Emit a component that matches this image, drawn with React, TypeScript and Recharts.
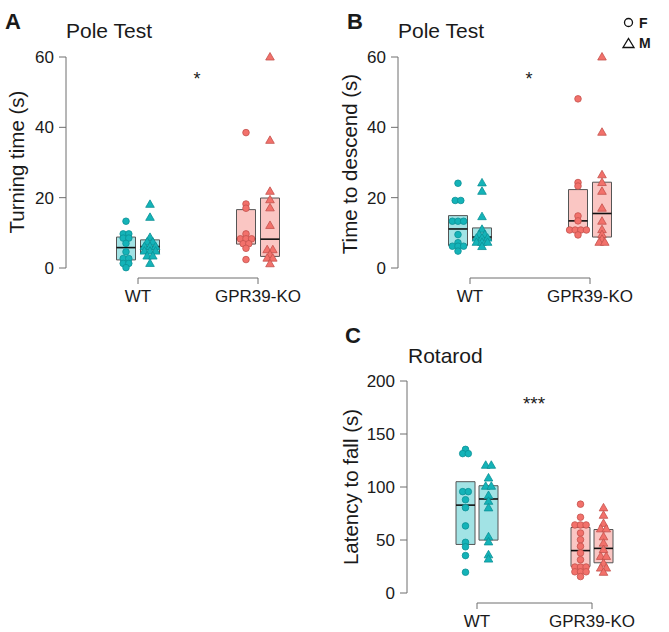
import React from 'react';
import { ComposedChart, Scatter, XAxis, YAxis, ReferenceArea, ReferenceLine } from 'recharts';

const groups = ['WT', 'GPR39-KO'];

// A - Pole test, turning time (s)
const turnWtF = [13.3, 9.7, 9.7, 8.5, 8.5, 7.0, 4.6, 2.7, 2.7, 1.3, 1.3, 0.1];
const turnWtM = [18.1, 14.4, 8.7, 7.4, 7.4, 6.1, 6.1, 6.1, 4.8, 4.8, 4.8, 3.4, 3.4, 1.3];
const turnKoF = [38.5, 18.2, 17.0, 9.7, 8.3, 8.3, 8.3, 6.9, 6.9, 5.6, 2.4];
const turnKoM = [60, 36.3, 21.8, 19.4, 17.1, 12.1, 5.2, 5.2, 3.8, 2.8, 2.8, 1.2];
// [q1, median, q3] for WT F, WT M, KO F, KO M
const turnBox = [[2.3, 5.8, 8.8], [4.2, 6.1, 8.0], [6.8, 8.3, 16.6], [3.3, 8.2, 19.9]];
const poleTicks = [0, 20, 40, 60];

// B - Pole test, time to descend (s)
const descWtF = [24.1, 19.2, 19.2, 13.3, 13.3, 13.3, 9.5, 7.2, 6.2, 6.2, 6.2, 4.8];
const descWtM = [24.2, 21.8, 14.6, 11.0, 9.5, 9.5, 8.5, 8.5, 8.5, 7.3, 7.3, 7.3, 6.1];
const descKoF = [48.1, 24.3, 23.3, 14.8, 13.4, 10.8, 10.8, 10.8, 10.8, 9.4];
const descKoM = [60, 38.6, 26.5, 24.3, 21.8, 17.0, 13.3, 10.9, 9.5, 8.2, 7.3, 7.3];
const descBox = [[6.4, 11.1, 14.9], [7.9, 8.8, 11.4], [10.9, 13.4, 22.3], [8.8, 15.5, 24.4]];

// C - Rotarod, latency to fall (s)
const rotaWtF = [135.5, 131.5, 131.5, 95.6, 95.6, 88.0, 80.5, 63.3, 47.8, 43.6, 35.3, 19.6];
const rotaWtM = [120.5, 120.5, 108.5, 100.7, 100.7, 92.0, 86.5, 80.3, 53.0, 48.2, 36.0, 32.0];
const rotaKoF = [83.8, 71.5, 64.2, 64.2, 64.2, 56.6, 50.3, 44.0, 37.7, 31.4, 24.5, 24.5, 24.5, 20.0, 20.0, 20.0, 15.5];
const rotaKoM = [80.3, 73.3, 65.6, 60.5, 60.5, 53.0, 47.0, 41.0, 34.5, 34.5, 28.0, 23.5, 23.5, 19.5];
const rotaBox = [[45.8, 82.9, 105], [49.9, 88.7, 101.2], [25, 40, 61.8], [28.5, 42.1, 59.9]];
const rotaTicks = [0, 50, 100, 150, 200];

const FONT = '"Liberation Sans", Arial, sans-serif';
const AXIS = '#6e6e6e';
const TEAL = '#14b3b8';
const TEAL_EDGE = '#0b9196';
const TEAL_BOX = '#a2e3e5';
const SALMON = '#f2716b';
const SALMON_EDGE = '#c4524c';
const SALMON_BOX = '#fac6c3';

// x slots: WT F, WT M, KO F, KO M
const slots = [0.9, 1.1, 1.9, 2.1];

// simple centred beeswarm: points in the same 5px row are spread side by side
function swarm(values: number[], cx: number, yPx: number, xPx: number) {
  const bins = new Map<number, number[]>();
  values.forEach((v) => {
    const b = Math.round((v * yPx) / 5);
    if (!bins.has(b)) bins.set(b, []);
    bins.get(b)!.push(v);
  });
  const out: { x: number; y: number }[] = [];
  bins.forEach((vs) => {
    vs.forEach((v, i) => out.push({ x: cx + ((i - (vs.length - 1) / 2) * 5.6) / xPx, y: v }));
  });
  return out;
}

const Dot = (fill: string, edge: string) => (p: any) => (
  <circle cx={p.cx} cy={p.cy} r={3.3} fill={fill} stroke={edge} strokeWidth={0.8} />
);
const Tri = (fill: string, edge: string) => (p: any) => (
  <polygon
    points={`${p.cx},${p.cy - 4.5} ${p.cx + 4.3},${p.cy + 3} ${p.cx - 4.3},${p.cy + 3}`}
    fill={fill}
    stroke={edge}
    strokeWidth={0.8}
  />
);

function Panel(props: {
  left: number;
  top: number;
  plotTop: number;
  plotH: number;
  xPx: number;
  xMin: number;
  yMax: number;
  ticks: number[];
  series: number[][];
  boxes: number[][];
}) {
  const { left, top, plotTop, plotH, xPx, xMin, yMax, ticks, series, boxes } = props;
  const yPx = plotH / yMax;
  const yMin = -10 / yPx;
  const xMax = 2.4;
  const width = 66 + (xMax - xMin) * xPx;
  const height = plotTop + plotH + 10 + 34;
  const shapes = [Dot(TEAL, TEAL_EDGE), Tri(TEAL, TEAL_EDGE), Dot(SALMON, SALMON_EDGE), Tri(SALMON, SALMON_EDGE)];
  const boxFill = [TEAL_BOX, TEAL_BOX, SALMON_BOX, SALMON_BOX];
  const hw = 9.5 / xPx;
  return (
    <div style={{ position: 'absolute', left, top }}>
      <ComposedChart width={width} height={height} margin={{ top: plotTop, right: 0, bottom: 0, left: 0 }}>
        <XAxis
          type="number"
          dataKey="x"
          domain={[xMin, xMax]}
          ticks={[1, 2]}
          interval={0}
          tickFormatter={(v: number) => groups[v - 1]}
          axisLine={false}
          tickLine={{ stroke: AXIS }}
          tickSize={6}
          tickMargin={6}
          height={34}
          tick={{ fontSize: 17, fill: '#1a1a1a', fontFamily: FONT }}
        />
        <YAxis
          type="number"
          dataKey="y"
          domain={[yMin, yMax]}
          ticks={ticks}
          interval={0}
          axisLine={false}
          tickLine={{ stroke: AXIS }}
          tickSize={7}
          tickMargin={5}
          width={66}
          tick={{ fontSize: 17, fill: '#1a1a1a', fontFamily: FONT }}
        />
        <ReferenceLine segment={[{ x: xMin, y: 0 }, { x: xMin, y: yMax }]} stroke={AXIS} strokeWidth={1} />
        <ReferenceLine segment={[{ x: 1, y: yMin }, { x: 2, y: yMin }]} stroke={AXIS} strokeWidth={1} />
        {boxes.map((b, i) => (
          <ReferenceArea
            key={'box' + i}
            x1={slots[i] - hw}
            x2={slots[i] + hw}
            y1={b[0]}
            y2={b[2]}
            fill={boxFill[i]}
            fillOpacity={1}
            stroke="#555"
            strokeWidth={1}
          />
        ))}
        {boxes.map((b, i) => (
          <ReferenceLine
            key={'med' + i}
            segment={[{ x: slots[i] - hw, y: b[1] }, { x: slots[i] + hw, y: b[1] }]}
            stroke="#111"
            strokeWidth={1.6}
          />
        ))}
        {series.map((vals, i) => (
          <Scatter
            key={'s' + i}
            data={swarm(vals, slots[i], yPx, xPx)}
            shape={shapes[i]}
            isAnimationActive={false}
          />
        ))}
      </ComposedChart>
    </div>
  );
}

export default function App() {
  const txt = { fontFamily: FONT, fill: '#1a1a1a' };
  return (
    <div style={{ position: 'absolute', left: 0, top: 0, width: 669, height: 632, background: '#fff' }}>
      <Panel
        left={0}
        top={0}
        plotTop={57}
        plotH={211}
        xPx={120}
        xMin={0.4}
        yMax={60}
        ticks={poleTicks}
        series={[turnWtF, turnWtM, turnKoF, turnKoM]}
        boxes={turnBox}
      />
      <Panel
        left={332}
        top={0}
        plotTop={57}
        plotH={211}
        xPx={120}
        xMin={0.4}
        yMax={60}
        ticks={poleTicks}
        series={[descWtF, descWtM, descKoF, descKoM]}
        boxes={descBox}
      />
      <Panel
        left={341}
        top={300}
        plotTop={81}
        plotH={212}
        xPx={115}
        xMin={1 - 70 / 115}
        yMax={200}
        ticks={rotaTicks}
        series={[rotaWtF, rotaWtM, rotaKoF, rotaKoM]}
        boxes={rotaBox}
      />
      <svg width={669} height={632} style={{ position: 'absolute', left: 0, top: 0, pointerEvents: 'none' }}>
        <text x={5} y={29} fontSize={22} fontWeight="bold" {...txt}>A</text>
        <text x={347} y={29} fontSize={22} fontWeight="bold" {...txt}>B</text>
        <text x={345} y={343} fontSize={22} fontWeight="bold" {...txt}>C</text>

        <text x={66} y={38} fontSize={21} {...txt}>Pole Test</text>
        <text x={398} y={38} fontSize={21} {...txt}>Pole Test</text>
        <text x={408} y={363} fontSize={21} {...txt}>Rotarod</text>

        <text x={197} y={85} fontSize={18} textAnchor="middle" {...txt}>*</text>
        <text x={529} y={85} fontSize={18} textAnchor="middle" {...txt}>*</text>
        <text x={534} y={410} fontSize={19} textAnchor="middle" {...txt}>***</text>

        <text transform="translate(24,162) rotate(-90)" fontSize={20.5} textAnchor="middle" {...txt}>Turning time (s)</text>
        <text transform="translate(357,164) rotate(-90)" fontSize={20.5} textAnchor="middle" {...txt}>Time to descend (s)</text>
        <text transform="translate(358,487) rotate(-90)" fontSize={20.5} textAnchor="middle" {...txt}>Latency to fall (s)</text>

        <circle cx={628.5} cy={22.5} r={4} fill="none" stroke="#111" strokeWidth={1.3} />
        <text x={639} y={27.5} fontSize={14} fontWeight="bold" {...txt}>F</text>
        <polygon points="623,47.5 634,47.5 628.5,38.5" fill="none" stroke="#111" strokeWidth={1.3} />
        <text x={639} y={48} fontSize={14} fontWeight="bold" {...txt}>M</text>
      </svg>
    </div>
  );
}
